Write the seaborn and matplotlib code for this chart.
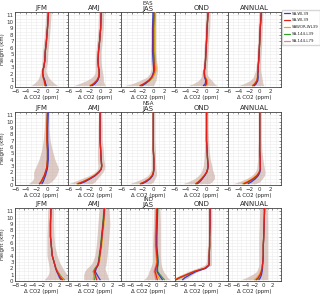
import numpy as np
import pandas as pd
import matplotlib
matplotlib.use("Agg")
import matplotlib.pyplot as plt
import seaborn as sns
from matplotlib.lines import Line2D
from matplotlib.ticker import MultipleLocator

sns.set_style("white")
plt.rcParams['font.family'] = ['DejaVu Sans']

# ---------------- data ----------------
HEIGHTS = [0.2, 0.5, 1.0, 1.5, 2.0, 2.5, 3.0, 4.0, 5.5, 7.0, 9.0, 11.5]
SEASONS = ["JFM", "AMJ", "JAS", "OND", "ANNUAL"]
REGIONS = ["EAS", "NSA", "IND"]
MODELS = ["SA-WL39 (blue)", "SA-WL39 (red)", "SAWOR-WL39", "SA-144-L39", "SA-144-L79"]
LEGEND_LABELS = ["SA-WL39", "SA-WL39", "SAWOR-WL39", "SA-144-L39", "SA-144-L79"]
MODEL_COLORS = ["#3b3bc4", "#e3201c", "#f5a300", "#33a02c", "#f08080"]
DRAW_ORDER = [4, 3, 2, 0, 1]
SURF_TAPER = [1.0, 0.8, 0.5, 0.3, 0.15, 0.05, 0.0, 0.0, 0.0, 0.0, 0.0, 0.0]
X_TICKS = {"EAS": [-6, -4, -2, 0, 2], "NSA": [-6, -4, -2, 0, 2], "IND": [-8, -6, -4, -2, 0, 2]}
X_LIMS = {"EAS": (-6, 4), "NSA": (-6, 4), "IND": (-8, 4)}

EAS_MEAN = {
    "JFM": [-0.3, -0.4, -0.5, -0.7, -0.8, -0.8, -0.6, -0.4, -0.3, -0.1, 0.1, 0.3],
    "AMJ": [-1.8, -1.2, -0.6, -0.3, -0.2, -0.2, -0.3, -0.4, -0.3, -0.1, 0.1, 0.2],
    "JAS": [-2.5, -1.8, -0.9, -0.3, 0.0, 0.2, 0.2, 0.1, 0.0, 0.0, 0.0, 0.1],
    "OND": [-0.3, 0.0, 0.0, -0.3, -0.4, -0.4, -0.3, -0.2, -0.1, 0.0, 0.1, 0.3],
    "ANNUAL": [-1.3, -0.9, -0.5, -0.4, -0.4, -0.3, -0.3, -0.2, -0.1, 0.0, 0.1, 0.3],
}
EAS_LO = {
    "JFM": [-3.0, -2.5, -1.8, -1.5, -1.3, -1.2, -1.0, -0.9, -0.8, -0.6, -0.4, -0.2],
    "AMJ": [-5.0, -4.0, -2.5, -1.5, -1.0, -0.9, -0.9, -0.9, -0.8, -0.6, -0.4, -0.3],
    "JAS": [-5.5, -4.0, -2.5, -1.2, -0.7, -0.5, -0.4, -0.5, -0.5, -0.4, -0.4, -0.3],
    "OND": [-3.5, -2.5, -1.5, -1.0, -0.9, -0.8, -0.7, -0.6, -0.5, -0.4, -0.3, -0.2],
    "ANNUAL": [-4.0, -3.0, -1.8, -1.2, -1.0, -0.8, -0.7, -0.6, -0.5, -0.4, -0.3, -0.2],
}
EAS_HI = {
    "JFM": [2.0, 1.5, 0.8, 0.3, 0.0, -0.2, -0.1, 0.1, 0.2, 0.4, 0.6, 0.8],
    "AMJ": [1.0, 0.8, 0.6, 0.6, 0.5, 0.4, 0.3, 0.2, 0.2, 0.4, 0.6, 0.7],
    "JAS": [0.0, 0.2, 0.5, 0.6, 0.7, 0.8, 0.8, 0.6, 0.5, 0.5, 0.5, 0.5],
    "OND": [2.0, 1.5, 1.0, 0.4, 0.1, 0.1, 0.1, 0.2, 0.3, 0.4, 0.6, 0.7],
    "ANNUAL": [0.8, 0.6, 0.5, 0.4, 0.3, 0.2, 0.2, 0.2, 0.3, 0.4, 0.5, 0.6],
}
NSA_MEAN = {
    "JFM": [-1.4, -1.1, -0.8, -0.5, -0.3, -0.1, 0.0, 0.1, 0.1, 0.0, 0.0, 0.1],
    "AMJ": [-4.2, -3.2, -2.0, -1.0, -0.3, 0.2, 0.3, 0.2, 0.1, 0.0, 0.0, 0.0],
    "JAS": [-2.4, -1.6, -0.7, -0.2, 0.0, 0.1, 0.1, 0.1, 0.0, 0.0, 0.0, 0.0],
    "OND": [-2.0, -1.5, -0.9, -0.4, 0.0, 0.2, 0.3, 0.2, 0.1, 0.0, 0.0, 0.0],
    "ANNUAL": [-3.0, -2.2, -1.2, -0.5, -0.1, 0.1, 0.1, 0.1, 0.0, 0.0, 0.0, 0.0],
}
NSA_LO = {
    "JFM": [-3.5, -3.0, -2.5, -2.5, -2.5, -2.3, -2.0, -1.5, -1.0, -0.7, -0.5, -0.4],
    "AMJ": [-6.0, -5.0, -3.5, -2.0, -1.0, -0.5, -0.4, -0.5, -0.5, -0.4, -0.4, -0.3],
    "JAS": [-4.5, -3.5, -2.0, -1.0, -0.6, -0.4, -0.4, -0.4, -0.4, -0.3, -0.3, -0.3],
    "OND": [-4.5, -3.5, -2.2, -1.5, -1.0, -0.8, -0.6, -0.5, -0.4, -0.4, -0.3, -0.3],
    "ANNUAL": [-5.0, -4.0, -2.5, -1.5, -0.9, -0.6, -0.5, -0.4, -0.4, -0.3, -0.3, -0.3],
}
NSA_HI = {
    "JFM": [0.2, 0.8, 1.4, 1.8, 2.0, 2.2, 2.0, 1.5, 1.0, 0.6, 0.4, 0.4],
    "AMJ": [-1.5, -1.0, -0.5, 0.0, 0.5, 0.8, 0.9, 0.7, 0.6, 0.4, 0.4, 0.3],
    "JAS": [-0.5, 0.0, 0.3, 0.6, 0.6, 0.5, 0.5, 0.4, 0.4, 0.3, 0.3, 0.3],
    "OND": [0.5, 1.0, 1.5, 1.5, 1.3, 1.1, 1.0, 0.7, 0.5, 0.4, 0.3, 0.3],
    "ANNUAL": [-0.8, 0.0, 0.5, 0.9, 1.0, 0.9, 0.8, 0.6, 0.4, 0.3, 0.3, 0.3],
}
IND_MEAN = {
    "JFM": [2.7, 2.3, 1.9, 1.5, 1.2, 1.0, 0.8, 0.4, 0.2, 0.0, 0.0, 0.1],
    "AMJ": [-1.8, -1.9, -2.0, -2.2, -1.8, -1.3, -1.1, -0.9, -0.6, -0.4, -0.1, 0.2],
    "JAS": [0.5, 0.3, 0.0, -0.3, -0.2, 0.0, 0.1, 0.0, -0.2, -0.2, -0.1, 0.0],
    "OND": [-7.8, -7.0, -5.3, -3.6, -1.2, -0.3, -0.2, -0.2, -0.1, -0.1, 0.0, 0.0],
    "ANNUAL": [-1.8, -1.3, -0.8, -0.5, -0.3, -0.2, -0.1, 0.0, 0.0, 0.1, 0.2, 0.3],
}
IND_LO = {
    "JFM": [-1.5, -1.0, -0.5, -0.3, -0.3, -0.4, -0.5, -0.8, -0.8, -0.8, -0.7, -0.6],
    "AMJ": [-4.5, -4.5, -4.5, -4.3, -3.8, -3.0, -2.5, -2.0, -1.7, -1.5, -1.3, -1.0],
    "JAS": [-3.0, -2.5, -2.0, -1.8, -1.5, -1.2, -1.0, -1.0, -1.0, -0.9, -0.8, -0.7],
    "OND": [-8.5, -8.0, -6.5, -5.0, -3.0, -1.2, -0.8, -0.7, -0.6, -0.5, -0.5, -0.5],
    "ANNUAL": [-5.0, -4.0, -2.5, -1.5, -1.2, -1.0, -1.0, -1.0, -1.0, -1.0, -0.9, -0.8],
}
IND_HI = {
    "JFM": [4.5, 4.2, 3.8, 3.2, 2.8, 2.4, 2.0, 1.5, 1.0, 0.8, 0.7, 0.7],
    "AMJ": [1.2, 1.0, 0.8, 0.5, 0.3, 0.5, 0.6, 0.8, 1.0, 1.2, 1.4, 1.2],
    "JAS": [3.0, 2.5, 2.0, 1.5, 1.2, 1.0, 0.9, 0.8, 0.8, 0.8, 0.8, 0.7],
    "OND": [-6.0, -5.0, -4.0, -2.8, -1.0, 0.3, 0.3, 0.3, 0.3, 0.3, 0.4, 0.4],
    "ANNUAL": [1.0, 1.0, 1.0, 1.0, 1.0, 1.0, 1.0, 1.0, 1.0, 1.0, 1.0, 0.9],
}
# per-model near-surface deviation (blue, red, orange, green, salmon)
SURF_DEV = {
    ("EAS", "JFM"): [0.2, 0.0, -0.1, 0.1, 0.0],
    ("EAS", "AMJ"): [0.3, 0.0, -0.2, 0.1, 0.0],
    ("EAS", "JAS"): [0.5, 0.0, -0.3, 0.2, 0.1],
    ("EAS", "OND"): [-0.3, 0.0, 0.3, 0.1, 0.0],
    ("EAS", "ANNUAL"): [0.3, 0.0, -0.1, 0.1, 0.0],
    ("NSA", "JFM"): [0.3, 0.0, -0.1, 0.1, 0.0],
    ("NSA", "AMJ"): [0.4, 0.0, -0.2, 0.1, 0.0],
    ("NSA", "JAS"): [0.3, 0.0, -0.1, 0.1, 0.0],
    ("NSA", "OND"): [0.3, 0.0, -0.1, 0.1, 0.0],
    ("NSA", "ANNUAL"): [0.8, 0.0, -0.3, 0.2, 0.0],
    ("IND", "JFM"): [-0.3, 0.0, 0.2, 0.4, 0.1],
    ("IND", "AMJ"): [1.0, 0.2, -0.7, -0.2, 0.3],
    ("IND", "JAS"): [0.6, -0.4, 0.3, 1.0, -0.6],
    ("IND", "OND"): [1.6, 0.0, -0.2, 0.2, 0.1],
    ("IND", "ANNUAL"): [0.8, 0.2, -0.2, 0.3, 0.1],
}
# per-model constant shift through the column
COL_SHIFT = {
    ("EAS", "JAS"): [-0.15, 0.0, 0.3, 0.15, 0.05],
    ("NSA", "JFM"): [0.15, 0.0, 0.05, 0.0, 0.0],
    ("IND", "AMJ"): [0.0, 0.0, 0.15, -0.1, 0.0],
    ("IND", "JAS"): [0.15, 0.0, -0.1, 0.2, -0.15],
}
ROW_MEAN = {"EAS": EAS_MEAN, "NSA": NSA_MEAN, "IND": IND_MEAN}
ROW_LO = {"EAS": EAS_LO, "NSA": NSA_LO, "IND": IND_LO}
ROW_HI = {"EAS": EAS_HI, "NSA": NSA_HI, "IND": IND_HI}

# ---------------- figure ----------------
W, H = 320, 296
fig = plt.figure(figsize=(W / 100, H / 100), dpi=100)
col_left = [15, 68.2, 121.4, 174.6, 227.8]
col_w = 53.2
row_tb = [(12, 87), (112, 185), (208, 281)]

for r, reg in enumerate(REGIONS):
    top, bot = row_tb[r]
    for c, sea in enumerate(SEASONS):
        ax = fig.add_axes([col_left[c] / W, 1 - bot / H, col_w / W, (bot - top) / H])
        mean = np.array(ROW_MEAN[reg][sea])
        lo = ROW_LO[reg][sea]
        hi = ROW_HI[reg][sea]
        ax.fill_betweenx(HEIGHTS, lo, hi, color="#c4a197", alpha=0.55, lw=0, zorder=1)
        dev = SURF_DEV[(reg, sea)]
        shift = COL_SHIFT.get((reg, sea), [0, 0, 0, 0, 0])
        rows = []
        for m in DRAW_ORDER:
            prof = mean + dev[m] * np.array(SURF_TAPER) + shift[m]
            for h, v in zip(HEIGHTS, prof):
                rows.append({"model": MODELS[m], "height": h, "co2": v})
        df = pd.DataFrame(rows)
        sns.lineplot(data=df, x="co2", y="height", hue="model",
                     hue_order=[MODELS[m] for m in DRAW_ORDER],
                     palette=[MODEL_COLORS[m] for m in DRAW_ORDER],
                     orient="y", sort=True, estimator=None, lw=0.9,
                     legend=False, ax=ax, zorder=3)
        ax.set_xlim(*X_LIMS[reg])
        ax.set_ylim(0, 11.5)
        ax.set_xticks(X_TICKS[reg])
        ax.set_yticks(range(0, 12))
        ax.xaxis.set_minor_locator(MultipleLocator(1))
        ax.yaxis.set_minor_locator(MultipleLocator(0.5))
        ax.grid(True, which="both", color="#ececec", lw=0.4, zorder=0)
        ax.tick_params(axis="both", which="both", direction="in", top=True, right=True,
                       labelsize=4.0, length=1.5, width=0.4, pad=1.0, colors="#333333")
        ax.tick_params(axis="x", which="major", pad=1.6)
        ax.tick_params(axis="both", which="minor", length=0.8)
        for s in ax.spines.values():
            s.set_linewidth(0.6)
            s.set_color("#444444")
        ax.set_xlabel("Δ CO2 (ppm)", fontsize=3.9, labelpad=0.8)
        if c == 0:
            ax.set_ylabel("Height (km)", fontsize=3.8, labelpad=0.8)
        else:
            ax.set_ylabel("")
            ax.set_yticklabels([])
        if c == 2:
            ax.text(0.5, 1.11, reg, transform=ax.transAxes, ha="center", va="center",
                    fontsize=4.0)
            ax.text(0.5, 1.04, sea, transform=ax.transAxes, ha="center", va="center",
                    fontsize=5)
        else:
            ax.set_title(sea, fontsize=5, pad=1.5)

handles = [Line2D([0], [0], color=MODEL_COLORS[i], lw=0.9) for i in range(5)]
fig.legend(handles, LEGEND_LABELS, loc="upper left", bbox_to_anchor=(281.5 / W, 1 - 9 / H),
           fontsize=2.8, frameon=True, handlelength=1.5, handletextpad=0.4,
           borderpad=0.45, borderaxespad=0.2, labelspacing=0.75,
           edgecolor="#cccccc", fancybox=False)

fig.savefig("out.png", dpi=100)
